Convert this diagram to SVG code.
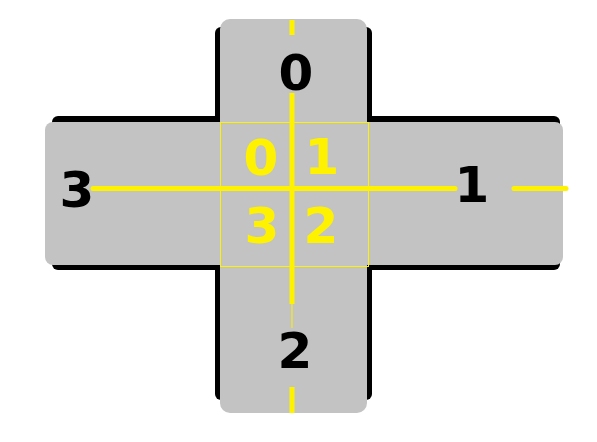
<svg xmlns="http://www.w3.org/2000/svg" width="597" height="442" viewBox="0 0 597 442">
<style>
.sh{fill:#000}
.arm{fill:#c3c3c3}
.yl{stroke:#fff200;stroke-width:5;fill:none}
.thin{stroke:#fff200;stroke-width:1;fill:none}
.lbl{font-family:"DejaVu Sans",Verdana,sans-serif;font-weight:bold;font-size:50px;text-anchor:middle}
.blk{fill:#000}
.ylw{fill:#fff200}
</style>
<rect width="597" height="442" fill="#fff"/>
<g id="cross">
<rect class="sh" x="52" y="116" width="508" height="154" rx="6"/>
<rect class="sh" x="215" y="27" width="157" height="373" rx="6"/>
<rect class="arm" x="45" y="122" width="518" height="143" rx="8"/>
<rect class="arm" x="220" y="19" width="147" height="394" rx="10"/>
</g>
<g id="center-square">
<rect class="thin" x="220.5" y="122.5" width="148" height="144"/>
</g>
<g id="connectors">
<line class="yl" x1="292" y1="20" x2="292" y2="35"/>
<line class="yl" x1="292" y1="93" x2="292" y2="304"/>
<line class="thin" x1="292" y1="304" x2="292" y2="328"/>
<line class="yl" x1="292" y1="387" x2="292" y2="413"/>
<line class="yl" x1="93" y1="188.5" x2="455" y2="188.5" stroke-linecap="round"/>
<line class="yl" x1="514" y1="188.5" x2="566" y2="188.5" stroke-linecap="round"/>
</g>
<g id="label-0"><text class="lbl blk" x="296" y="90">0</text></g>
<g id="label-1"><text class="lbl blk" x="472" y="202">1</text></g>
<g id="label-2"><text class="lbl blk" x="295" y="368">2</text></g>
<g id="label-3"><text class="lbl blk" x="77" y="207">3</text></g>
<g id="inner-0"><text class="lbl ylw" x="261" y="175">0</text></g>
<g id="inner-1"><text class="lbl ylw" x="322" y="174">1</text></g>
<g id="inner-3"><text class="lbl ylw" x="262" y="243">3</text></g>
<g id="inner-2"><text class="lbl ylw" x="321" y="243">2</text></g>
</svg>
